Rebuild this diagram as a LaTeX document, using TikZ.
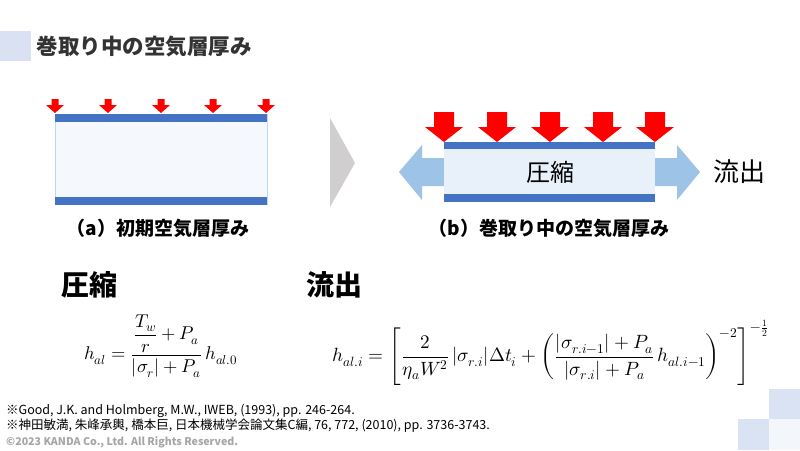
\documentclass[tikz,border=0pt]{standalone}
\usepackage{fontspec}
\usepackage{unicode-math}
\setmathfont{Latin Modern Math}
\newfontfamily\jp{Noto Sans CJK JP}
\definecolor{titlesq}{HTML}{D9E1F2}
\definecolor{titletext}{HTML}{333333}
\definecolor{bandblue}{HTML}{4472C4}
\definecolor{afill}{HTML}{F5F9FD}
\definecolor{aborder}{HTML}{BDD7EE}
\definecolor{bfill}{HTML}{E8F0F9}
\definecolor{flowblue}{HTML}{9DC3E6}
\definecolor{chev}{HTML}{D0CECE}
\definecolor{copygray}{HTML}{A6A6A6}
\definecolor{sqA}{HTML}{DAE3F3}
\definecolor{sqB}{HTML}{F3F6FB}
\begin{document}
\begin{tikzpicture}[x=1pt,y=-1pt,
  band/.style={fill=bandblue,draw=none},
  redarr/.style={fill=red,draw=none},
  flowarr/.style={fill=flowblue,draw=none},
  captxt/.style={font=\jp\bfseries\fontsize{19}{22}\selectfont,text=black},
  headtxt/.style={font=\jp\bfseries\fontsize{28}{32}\selectfont,text=black,anchor=west},
  mathtxt/.style={anchor=west,inner sep=0pt},
  foot/.style={font=\jp\fontsize{12.5}{14}\selectfont,anchor=base west,inner sep=0pt}]
\fill[white] (0,0) rectangle (800,450);
\useasboundingbox (0,0) rectangle (800,450);
% title
\fill[titlesq] (0,31) rectangle (31,61);
\node[anchor=west,font=\jp\bfseries\fontsize{21.5}{25}\selectfont,text=titletext] (title) at (33,46) {巻取り中の空気層厚み};
% (a) initial layer
\fill[afill] (55,114) rectangle (267,205);
\draw[aborder,line width=0.8pt] (55,114) -- (55,205) (267,114) -- (267,205);
\fill[band] (55,114) rectangle (267,122);
\fill[band] (55,197) rectangle (267,205);
\foreach \cx in {55,108,161,213,266}
  \fill[redarr] ({\cx-3.5},99) -- ({\cx+3.5},99) -- ({\cx+3.5},105) -- ({\cx+9},105) -- (\cx,113) -- ({\cx-9},105) -- ({\cx-3.5},105) -- cycle;
\node[captxt] (capa) at (158,228) {（a）初期空気層厚み};
% chevron
\fill[chev] (330,118) -- (355,163) -- (330,207) -- cycle;
% (b) winding
\fill[flowarr] (444,158) -- (422,158) -- (422,145) -- (399,172) -- (422,200) -- (422,186) -- (444,186) -- cycle;
\fill[flowarr] (655,158) -- (677,158) -- (677,145) -- (700,172) -- (677,200) -- (677,186) -- (655,186) -- cycle;
\fill[bfill] (444,142) rectangle (655,202);
\fill[band] (444,142) rectangle (655,149);
\fill[band] (444,194) rectangle (655,202);
\foreach \cx in {444,497,550,603,655}
  \fill[redarr] ({\cx-10},112) -- ({\cx+10},112) -- ({\cx+10},127) -- ({\cx+19},127) -- (\cx,142) -- ({\cx-19},127) -- ({\cx-10},127) -- cycle;
\node[font=\jp\fontsize{24}{28}\selectfont] (comp) at (550,172) {圧縮};
\node[anchor=west,font=\jp\fontsize{26}{30}\selectfont] (flow) at (710,172) {流出};
\node[captxt] (capb) at (549,228) {（b）巻取り中の空気層厚み};
% headings
\node[headtxt] (h1) at (58,285) {圧縮};
\node[headtxt] (h2) at (303,285) {流出};
% formulas
\node[mathtxt,font=\fontsize{18.5}{22}\selectfont] (f1) at (84,346) {$\displaystyle h_{al}=\frac{\dfrac{T_w}{r}+P_a}{|\sigma_r|+P_a}\,h_{al.0}$};
\node[mathtxt,font=\fontsize{19.2}{23}\selectfont] (f2) at (332,353) {$\displaystyle h_{al.i}=\left[\frac{2}{\eta_a W^2}\,|\sigma_{r.i}|\Delta t_i+\left(\frac{|\sigma_{r.i-1}|+P_a}{|\sigma_{r.i}|+P_a}\,h_{al.i-1}\right)^{-2}\right]^{-\frac{1}{2}}$};
% footnotes
\node[foot] (n1) at (6,414) {※Good, J.K. and Holmberg, M.W., IWEB, (1993), pp. 246-264.};
\node[foot] (n2) at (6,429) {※神田敏満, 朱峰承輿, 橋本巨, 日本機械学会論文集C編, 76, 772, (2010), pp. 3736-3743.};
\node[foot,font=\jp\bfseries\fontsize{10.6}{12}\selectfont,text=copygray] (copy) at (6,445) {©2023 KANDA Co., Ltd. All Rights Reserved.};
% corner squares
\fill[sqA] (769,389) rectangle (800,419);
\fill[sqA] (738,419) rectangle (769,450);
\fill[sqB] (769,419) rectangle (800,450);
\end{tikzpicture}
\end{document}
